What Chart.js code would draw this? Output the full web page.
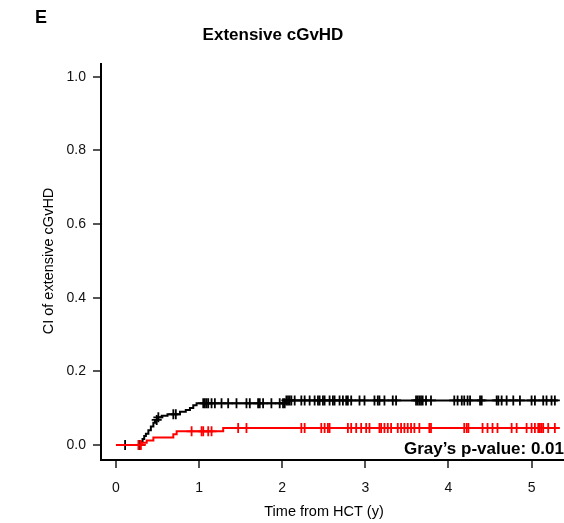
<!DOCTYPE html>
<html>
<head>
<meta charset="utf-8">
<script src="https://cdn.jsdelivr.net/npm/chart.js@4"></script>
<style>
  html, body { margin: 0; padding: 0; background: #fff; }
  #wrap { width: 564px; height: 523px; position: relative; }
</style>
</head>
<body>
<div id="wrap"><canvas id="ci"></canvas></div>
<script>
// step times (years) and cumulative incidence for each group
const blackTimes = [0, 0.30, 0.32, 0.34, 0.36, 0.39, 0.42, 0.45, 0.47, 0.50, 0.55, 0.62, 0.77, 0.84, 0.89, 0.93, 0.97, 2.04, 5.32];
const blackVals  = [0, 0.008, 0.016, 0.024, 0.030, 0.040, 0.050, 0.060, 0.068, 0.075, 0.079, 0.083, 0.090, 0.095, 0.100, 0.108, 0.113, 0.121, 0.121];
const redTimes = [0, 0.31, 0.37, 0.45, 0.69, 0.73, 1.29, 5.32];
const redVals  = [0, 0.006, 0.012, 0.020, 0.029, 0.037, 0.046, 0.046];

// censoring times
const blackCensor = [0.11, 0.29, 0.49, 0.51, 0.69, 0.72, 1.05, 1.07, 1.09, 1.11, 1.15, 1.19, 1.27, 1.35, 1.45, 1.57, 1.61,
  1.71, 1.73, 1.77, 1.87, 1.97, 2.01, 2.03, 2.05, 2.07, 2.09, 2.11, 2.15, 2.23, 2.27, 2.33, 2.39, 2.43, 2.45, 2.49, 2.51,
  2.57, 2.61, 2.63, 2.69, 2.73, 2.77, 2.79, 2.83, 2.93, 2.99, 3.11, 3.15, 3.17, 3.23, 3.33, 3.37, 3.61, 3.63, 3.65, 3.67,
  3.69, 3.73, 3.79, 4.07, 4.11, 4.16, 4.19, 4.23, 4.26, 4.38, 4.40, 4.58, 4.60, 4.64, 4.70, 4.78, 4.86, 5.00, 5.04, 5.14,
  5.18, 5.24, 5.28];
const redCensor = [0.27, 0.30, 0.91, 1.03, 1.05, 1.11, 1.15, 1.47, 1.57, 2.23, 2.27, 2.47, 2.51, 2.55, 2.57, 2.79, 2.83,
  2.89, 2.95, 3.01, 3.05, 3.17, 3.19, 3.23, 3.27, 3.31, 3.39, 3.43, 3.47, 3.51, 3.55, 3.59, 3.65, 3.77, 3.79, 4.19, 4.22,
  4.24, 4.41, 4.47, 4.53, 4.59, 4.76, 4.82, 4.94, 5.00, 5.04, 5.08, 5.10, 5.12, 5.14, 5.20, 5.28];

const xTicks = [0, 1, 2, 3, 4, 5];
const yTicks = [0, 0.2, 0.4, 0.6, 0.8, 1.0];

const FONT = 'Liberation Sans, Arial, sans-serif';

function stepAt(times, vals, t) {
  let v = vals[0];
  for (let i = 0; i < times.length; i++) if (times[i] <= t) v = vals[i];
  return v;
}
const pts = (ts, vs) => ts.map((t, i) => ({x: t, y: vs[i]}));
const cens = (cs, ts, vs) => cs.map(t => ({x: t, y: stepAt(ts, vs, t)}));

const textPlugin = {
  id: 'texts',
  afterDraw(chart) {
    const c = chart.ctx;
    c.save();
    c.fillStyle = '#000';
    c.textBaseline = 'alphabetic';
    c.font = 'bold 18px ' + FONT;
    c.textAlign = 'left';
    c.fillText('E', 35, 23);
    c.font = 'bold 17px ' + FONT;
    c.textAlign = 'center';
    c.fillText('Extensive cGvHD', 273, 40);
    c.font = '14.5px ' + FONT;
    c.fillText('Time from HCT (y)', 324, 516);
    c.save();
    c.translate(53, 261);
    c.rotate(-Math.PI / 2);
    c.fillText('CI of extensive cGvHD', 0, 0);
    c.restore();
    c.font = 'bold 17px ' + FONT;
    c.textAlign = 'right';
    c.fillText('Gray\u2019s p-value: 0.01', 564, 454);
    c.restore();
  }
};

new Chart(document.getElementById('ci'), {
  type: 'scatter',
  data: {
    datasets: [
      {type: 'line', data: pts(redTimes, redVals), borderColor: '#ff0000', borderWidth: 2, stepped: true, pointRadius: 0, fill: false},
      {data: cens(redCensor, redTimes, redVals), pointStyle: 'cross', pointRadius: 5, borderColor: '#ff0000', borderWidth: 1.8, backgroundColor: '#ff0000'},
      {type: 'line', data: pts(blackTimes, blackVals), borderColor: '#000', borderWidth: 2, stepped: true, pointRadius: 0, fill: false},
      {data: cens(blackCensor, blackTimes, blackVals), pointStyle: 'cross', pointRadius: 5, borderColor: '#000', borderWidth: 1.8, backgroundColor: '#000'}
    ]
  },
  options: {
    responsive: true,
    maintainAspectRatio: false,
    animation: false,
    events: [],
    layout: { autoPadding: false, padding: { top: 64, right: 0, left: 0, bottom: 0 } },
    plugins: { legend: { display: false }, tooltip: { enabled: false } },
    scales: {
      x: {
        type: 'linear', min: -0.18, max: 5.39,
        afterFit: s => { s.height = 63; s.paddingLeft = 0; s.paddingRight = 0; },
        afterBuildTicks: s => { s.ticks = xTicks.map(v => ({value: v})); },
        grid: { drawOnChartArea: false, drawTicks: true, tickLength: 8, color: '#555', lineWidth: 2 },
        border: { display: true, color: '#000', width: 2 },
        ticks: { font: { family: FONT, size: 14 }, color: '#111', padding: 12, callback: v => String(v) }
      },
      y: {
        type: 'linear', min: -0.041, max: 1.035,
        afterFit: s => { s.width = 101; s.paddingTop = 0; s.paddingBottom = 0; },
        afterBuildTicks: s => { s.ticks = yTicks.map(v => ({value: v})); },
        grid: { drawOnChartArea: false, drawTicks: true, tickLength: 8, color: '#555', lineWidth: 2 },
        border: { display: true, color: '#000', width: 2 },
        ticks: { font: { family: FONT, size: 14 }, color: '#111', padding: 7, callback: v => v.toFixed(1) }
      }
    }
  },
  plugins: [textPlugin]
});
</script>
</body>
</html>
